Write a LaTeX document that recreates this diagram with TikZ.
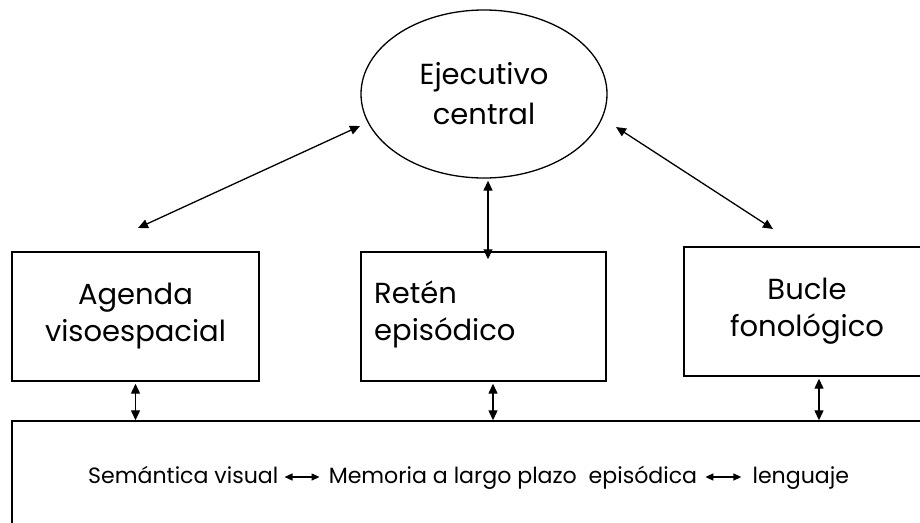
\documentclass[tikz,border=0pt]{standalone}
\usepackage{fontspec}
\setmainfont{Poppins}
\usetikzlibrary{shapes.geometric,arrows.meta}
\begin{document}
\begin{tikzpicture}[x=1pt,y=-1pt,
  every node/.style={font=\fontsize{29}{37}\selectfont, inner sep=0pt},
  box/.style={draw, line width=1.4pt, rectangle},
  arr/.style={line width=1.3pt, {Triangle[length=10pt,width=9pt]}-{Triangle[length=10pt,width=9pt]}},
  smallarr/.style={line width=1.3pt, {Triangle[length=8pt,width=7pt]}-{Triangle[length=8pt,width=7pt]}},
  lbl/.style={font=\fontsize{22.1}{26}\selectfont, anchor=base west}]
\useasboundingbox (0,0) rectangle (920,522);
\fill[white] (0,0) rectangle (920,522);
% ellipse
\node[draw, ellipse, line width=1.3pt, minimum width=246pt, minimum height=168pt, align=center, font=\fontsize{29}{40}\selectfont] (ec) at (484,94) {Ejecutivo\\central};
% boxes
\node[box, minimum width=247pt, minimum height=129pt, align=center] (ag) at (135.5,316.5) {Agenda\\visoespacial};
\node[box, minimum width=245pt, minimum height=129pt] (re) at (483.5,316.5) {};
\node[align=left, anchor=west] (ret) at (374,314) {Retén\\episódico};
\node[box, minimum width=246pt, minimum height=129pt, align=center] (bu) at (807,311.5) {Bucle\\fonológico};
\node[box, minimum width=918pt, minimum height=120pt] (lt) at (471,481) {};
% bottom text
\node[lbl] (sv) at (88,483) {Semántica visual};
\coordinate (p1) at ([xshift=6pt,yshift=6pt]sv.base east);
\coordinate (p2) at ([xshift=35pt]p1);
\node[lbl] (mem) at ([xshift=9pt,yshift=-6pt]p2) {Memoria a largo plazo\ \ episódica};
\coordinate (p3) at ([xshift=8pt,yshift=6pt]mem.base east);
\coordinate (p4) at ([xshift=36pt]p3);
\node[lbl] (len) at ([xshift=11pt,yshift=-6pt]p4) {lenguaje};
\draw[smallarr] (p1) -- (p2);
\draw[smallarr] (p3) -- (p4);
% connectors
\coordinate (e1) at (360,126);
\coordinate (a1) at (138,228);
\coordinate (e2) at (616,127);
\coordinate (b1) at (773,229);
\draw[arr] (e1) -- (a1);
\draw[arr] (e2) -- (b1);
\draw[arr] ([yshift=-2pt]ec.south -| 488,0) -- ([yshift=-8pt]re.north -| 488,0);
\draw[arr] ([yshift=-2pt]ag.south) -- (ag.south |- lt.north);
\draw[arr] ([yshift=-2pt]re.south -| 493,0) -- (493,0 |- lt.north);
\draw[arr] ([yshift=-2pt]bu.south -| 819,0) -- (819,0 |- lt.north);
\end{tikzpicture}
\end{document}
